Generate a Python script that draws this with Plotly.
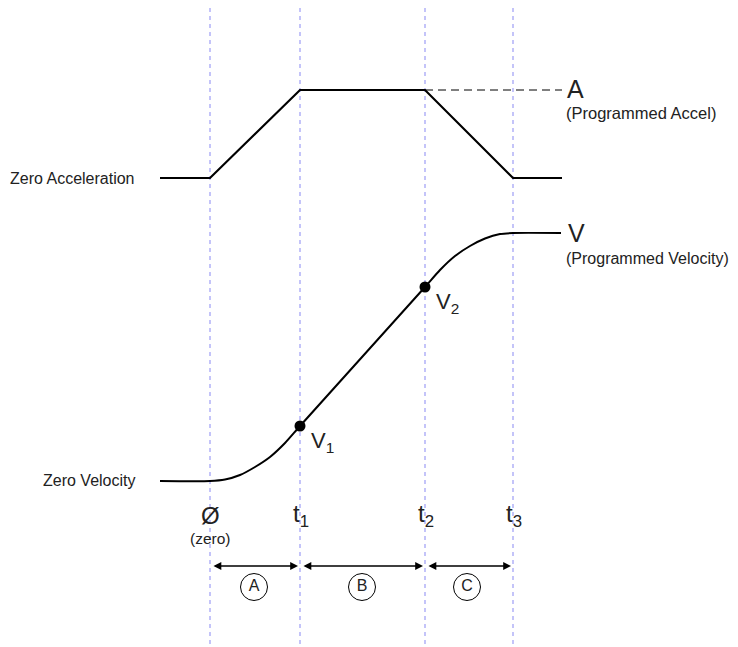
import plotly.graph_objects as go

# ---- data (diagram coordinates) ----
time_marks_x = [210, 300, 425, 513]
time_labels = ["Ø", "t<sub>1</sub>", "t<sub>2</sub>", "t<sub>3</sub>"]

accel_x = [160, 210, 300, 425, 513, 562]
accel_y = [178, 178, 90, 90, 178, 178]

vel_x = [160, 210, 225, 240, 255, 270, 285, 300, 425, 440, 455, 470, 485, 500, 513, 561]
vel_y = [481, 481, 479.5, 475, 467, 457, 443, 426, 287, 270, 256, 246, 238.5, 234, 233, 233]

points_x = [300, 425]
points_y = [426, 287]
point_labels = ["V<sub>1</sub>", "V<sub>2</sub>"]

prog_accel_x = [425, 562]
prog_accel_y = [90, 90]

phase_labels = ["A", "B", "C"]
phase_x = [254, 362, 467]
phase_y = [587, 587, 587]

FONT = "Liberation Sans, Arial, sans-serif"
GRID = "#9494f4"

fig = go.Figure()

# vertical dashed time lines
for x in time_marks_x:
    fig.add_trace(go.Scatter(x=[x, x], y=[0, 647], mode="lines",
                             line=dict(color=GRID, width=1.1, dash="4px,4px"),
                             hoverinfo="skip", showlegend=False))

# programmed accel dashed line
fig.add_trace(go.Scatter(x=prog_accel_x, y=prog_accel_y, mode="lines",
                         line=dict(color="black", width=1, dash="8px,5px"),
                         showlegend=False))

# acceleration
fig.add_trace(go.Scatter(x=accel_x, y=accel_y, mode="lines",
                         line=dict(color="black", width=2.2), showlegend=False))

# velocity
fig.add_trace(go.Scatter(x=vel_x, y=vel_y, mode="lines",
                         line=dict(color="black", width=2, shape="spline", smoothing=0.6),
                         showlegend=False))

# V1, V2 points
fig.add_trace(go.Scatter(x=points_x, y=points_y, mode="markers",
                         marker=dict(color="black", size=11), showlegend=False))

# circled phase letters
fig.add_trace(go.Scatter(x=phase_x, y=phase_y, mode="markers+text",
                         text=phase_labels, textposition="middle center",
                         textfont=dict(family=FONT, size=16, color="#222"),
                         marker=dict(symbol="circle-open", size=27,
                                     color="black", line=dict(width=1)),
                         showlegend=False))

ann = []
def add(text, x, y, size, xa="center", ya="middle"):
    ann.append(dict(text=text, x=x, y=y, xref="x", yref="y", showarrow=False,
                    xanchor=xa, yanchor=ya,
                    font=dict(family=FONT, size=size, color="#222")))

add("Zero Acceleration", 137, 178, 16, xa="right")
add("Zero Velocity", 137, 480, 16, xa="right")
add("A", 565, 89, 25, xa="left")
add("(Programmed Accel)", 564, 113, 16.5, xa="left")
add("V", 566, 233, 25, xa="left")
add("(Programmed Velocity)", 564, 258, 16, xa="left")
for lbl, px, py in zip(point_labels, points_x, points_y):
    add(lbl, px + 9, py + 16, 22, xa="left")
for lbl, tx in zip(time_labels, time_marks_x):
    add(lbl, tx + (0 if lbl == "Ø" else 1), 515, 24)
add("(zero)", 210, 538, 15.5)

# double-headed interval arrows
for x0, x1 in zip(time_marks_x[:-1], time_marks_x[1:]):
    ann.append(dict(x=x1 - 2, y=566, ax=x0 + 2, ay=566, xref="x", yref="y",
                    axref="x", ayref="y", text="", showarrow=True,
                    arrowhead=2, startarrowhead=2, arrowside="end+start",
                    arrowsize=1.2, arrowwidth=1.3, arrowcolor="black"))

# the page body has an 8px margin: shift the axes so diagram coords = window pixels
fig.update_layout(
    width=730, height=639,
    margin=dict(l=0, r=0, t=0, b=0),
    paper_bgcolor="white", plot_bgcolor="white",
    xaxis=dict(range=[8, 738], visible=False, fixedrange=True),
    yaxis=dict(range=[647, 8], visible=False, fixedrange=True),
    annotations=ann,
    showlegend=False,
)

fig.write_html("out.html")
